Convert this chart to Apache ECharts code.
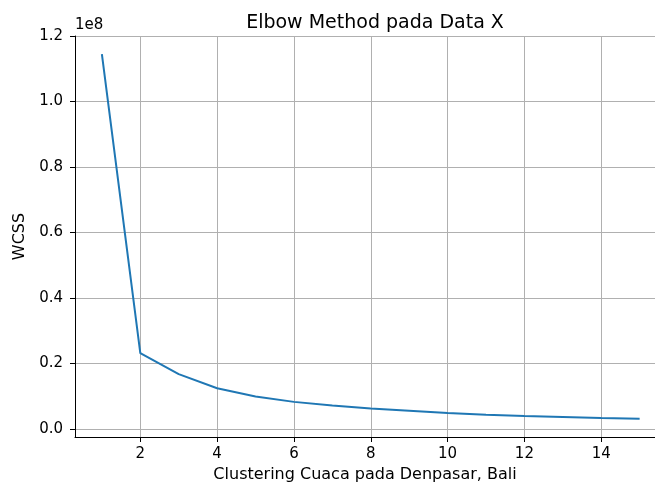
<!DOCTYPE html>
<html>
<head>
<meta charset="utf-8">
<script src="https://cdn.jsdelivr.net/npm/echarts@6/dist/echarts.min.js"></script>
<style>
  html, body { margin: 0; padding: 0; background: #fff; }
  #chart { width: 655px; height: 484px; }
</style>
</head>
<body>
<div id="chart"></div>
<script>
// jumlah cluster (k)
const clusters = [1, 2, 3, 4, 5, 6, 7, 8, 9, 10, 11, 12, 13, 14, 15]
// nilai WCSS tiap k
const wcss = [
  1.145e8, 0.231e8, 0.167e8, 0.124e8, 0.0985e8, 0.0823e8, 0.0712e8, 0.0622e8,
  0.0552e8, 0.0483e8, 0.0430e8, 0.0388e8, 0.0358e8, 0.0328e8, 0.0308e8
]
const xTicks = [2, 4, 6, 8, 10, 12, 14]
const yTicks = [0, 0.2e8, 0.4e8, 0.6e8, 0.8e8, 1.0e8, 1.2e8]

const font = 'DejaVu Sans'
const chart = echarts.init(document.getElementById('chart'))

chart.setOption({
  animation: false,
  title: {
    text: 'Elbow Method pada Data X',
    left: 370,
    top: 9,
    textAlign: 'center',
    textStyle: { fontFamily: font, fontSize: 19, fontWeight: 'normal', color: '#000' }
  },
  graphic: [{
    type: 'text',
    left: 75,
    top: 18,
    style: { text: '1e8', font: '15px DejaVu Sans', fill: '#000' }
  }, {
    // garis tepi atas (spine)
    type: 'line',
    shape: { x1: 75, y1: 36.5, x2: 655, y2: 36.5 },
    style: { stroke: '#000', lineWidth: 1 }
  }],
  grid: { left: 75, top: 36, width: 580, height: 401, containLabel: false, outerBoundsMode: 'none' },
  xAxis: {
    type: 'value',
    min: 0.3,
    max: 15.4,
    name: 'Clustering Cuaca pada Denpasar, Bali',
    nameLocation: 'middle',
    nameGap: 30,
    nameTextStyle: { fontFamily: font, fontSize: 16, color: '#000' },
    axisLine: { onZero: false, lineStyle: { color: '#000', width: 1 } },
    axisTick: { customValues: xTicks, length: 5, lineStyle: { color: '#000' } },
    axisLabel: { customValues: xTicks, fontFamily: font, fontSize: 15, color: '#000', margin: 10 },
    splitLine: { show: true, lineStyle: { color: '#b0b0b0', width: 1 } }
  },
  yAxis: {
    type: 'value',
    min: -0.025e8,
    max: 1.2e8,
    name: 'WCSS',
    nameLocation: 'middle',
    nameGap: 46,
    nameTextStyle: { fontFamily: font, fontSize: 16, color: '#000' },
    axisLine: { show: true, onZero: false, lineStyle: { color: '#000', width: 1 } },
    axisTick: { show: true, customValues: yTicks, length: 5, lineStyle: { color: '#000' } },
    axisLabel: {
      customValues: yTicks,
      fontFamily: font, fontSize: 15, color: '#000', margin: 12,
      formatter: v => (v / 1e8).toFixed(1)
    },
    splitLine: { show: true, lineStyle: { color: '#b0b0b0', width: 1 } }
  },
  series: [{
    type: 'line',
    data: clusters.map((k, i) => [k, wcss[i]]),
    showSymbol: false,
    lineStyle: { color: '#1f77b4', width: 2 },
    itemStyle: { color: '#1f77b4' }
  }]
})
</script>
</body>
</html>
